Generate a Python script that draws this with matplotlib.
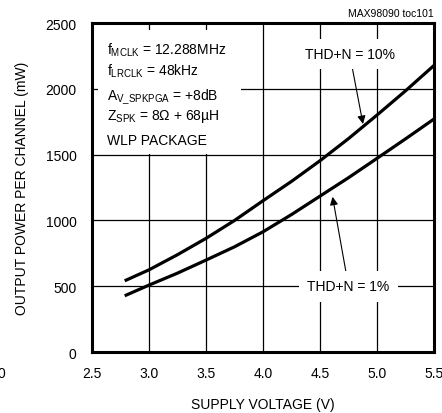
import matplotlib
matplotlib.use('Agg')
import matplotlib.pyplot as plt
from matplotlib.patches import Rectangle

plt.rcParams['font.family'] = ['Liberation Sans', 'DejaVu Sans']
plt.rcParams['mathtext.fontset'] = 'custom'
plt.rcParams['mathtext.rm'] = 'Liberation Sans'
plt.rcParams['mathtext.it'] = 'Liberation Sans'

# supply voltage (V) vs output power (mW)
vdd = [2.8, 3.0, 3.25, 3.5, 3.75, 4.0, 4.25, 4.5, 4.75, 5.0, 5.25, 5.5]
p_thd10 = [547, 625, 740, 864, 1000, 1150, 1297, 1454, 1622, 1801, 1985, 2178]
p_thd1 = [433, 509, 600, 699, 800, 914, 1045, 1185, 1325, 1472, 1620, 1771]

xticks = [2.5, 3.0, 3.5, 4.0, 4.5, 5.0, 5.5]
yticks = [0, 500, 1000, 1500, 2000, 2500]

cond_lines = ['f$_{\\mathrm{MCLK}}$ = 12.288MHz',
              'f$_{\\mathrm{LRCLK}}$ = 48kHz',
              'A$_{\\mathrm{V\\_SPKPGA}}$ = +8dB',
              'Z$_{\\mathrm{SPK}}$ = 8\u03a9 + 68\u00b5H',
              'WLP PACKAGE']
cond_y = [2264, 2105, 1915, 1770, 1580]

fig = plt.figure(figsize=(4.42, 4.14), dpi=100)
ax = fig.add_axes([0.208, 0.147, 0.774, 0.795])

ax.plot(vdd, p_thd10, color='black', lw=2.3, zorder=3)
ax.plot(vdd, p_thd1, color='black', lw=2.3, zorder=3)

ax.set_xlim(2.5, 5.5)
ax.set_ylim(0, 2500)
ax.set_xticks(xticks)
ax.set_xticklabels(['%.1f' % v for v in xticks])
ax.set_yticks(yticks)
ax.grid(True, color='black', lw=0.9)
ax.tick_params(length=0, labelsize=10)
ax.tick_params(axis='x', pad=10)
ax.tick_params(axis='y', pad=11)
for s in ax.spines.values():
    s.set_linewidth(2.2)

ax.set_xlabel('SUPPLY VOLTAGE (V)', fontsize=10, labelpad=12)
ax.set_ylabel('OUTPUT POWER PER CHANNEL (mW)', fontsize=10, labelpad=12)

# white block behind the conditions text
ax.add_patch(Rectangle((2.55, 1505), 1.26, 942, facecolor='white',
                       edgecolor='none', zorder=2))
for s, y in zip(cond_lines, cond_y):
    ax.text(2.63, y, s, fontsize=10, va='baseline', ha='left', zorder=4)

ax.annotate('THD+N = 10%', xy=(4.877, 1733), xytext=(4.76, 2264),
            ha='center', va='center', fontsize=10,
            bbox=dict(facecolor='white', edgecolor='none', pad=6),
            arrowprops=dict(arrowstyle='-|>', color='black', lw=0.8,
                            shrinkA=0, shrinkB=0, mutation_scale=12))
ax.annotate('THD+N = 1%', xy=(4.61, 1180), xytext=(4.75, 500),
            ha='center', va='center', fontsize=10,
            bbox=dict(facecolor='white', edgecolor='none', pad=6),
            arrowprops=dict(arrowstyle='-|>', color='black', lw=0.8,
                            shrinkA=0, shrinkB=0, mutation_scale=12))

fig.text(0.982, 0.966, 'MAX98090 toc101', fontsize=7.5, ha='right', va='center')
fig.text(0.012, 0.097, '0', fontsize=10, ha='right', va='center')

fig.savefig('out.png', dpi=100)
